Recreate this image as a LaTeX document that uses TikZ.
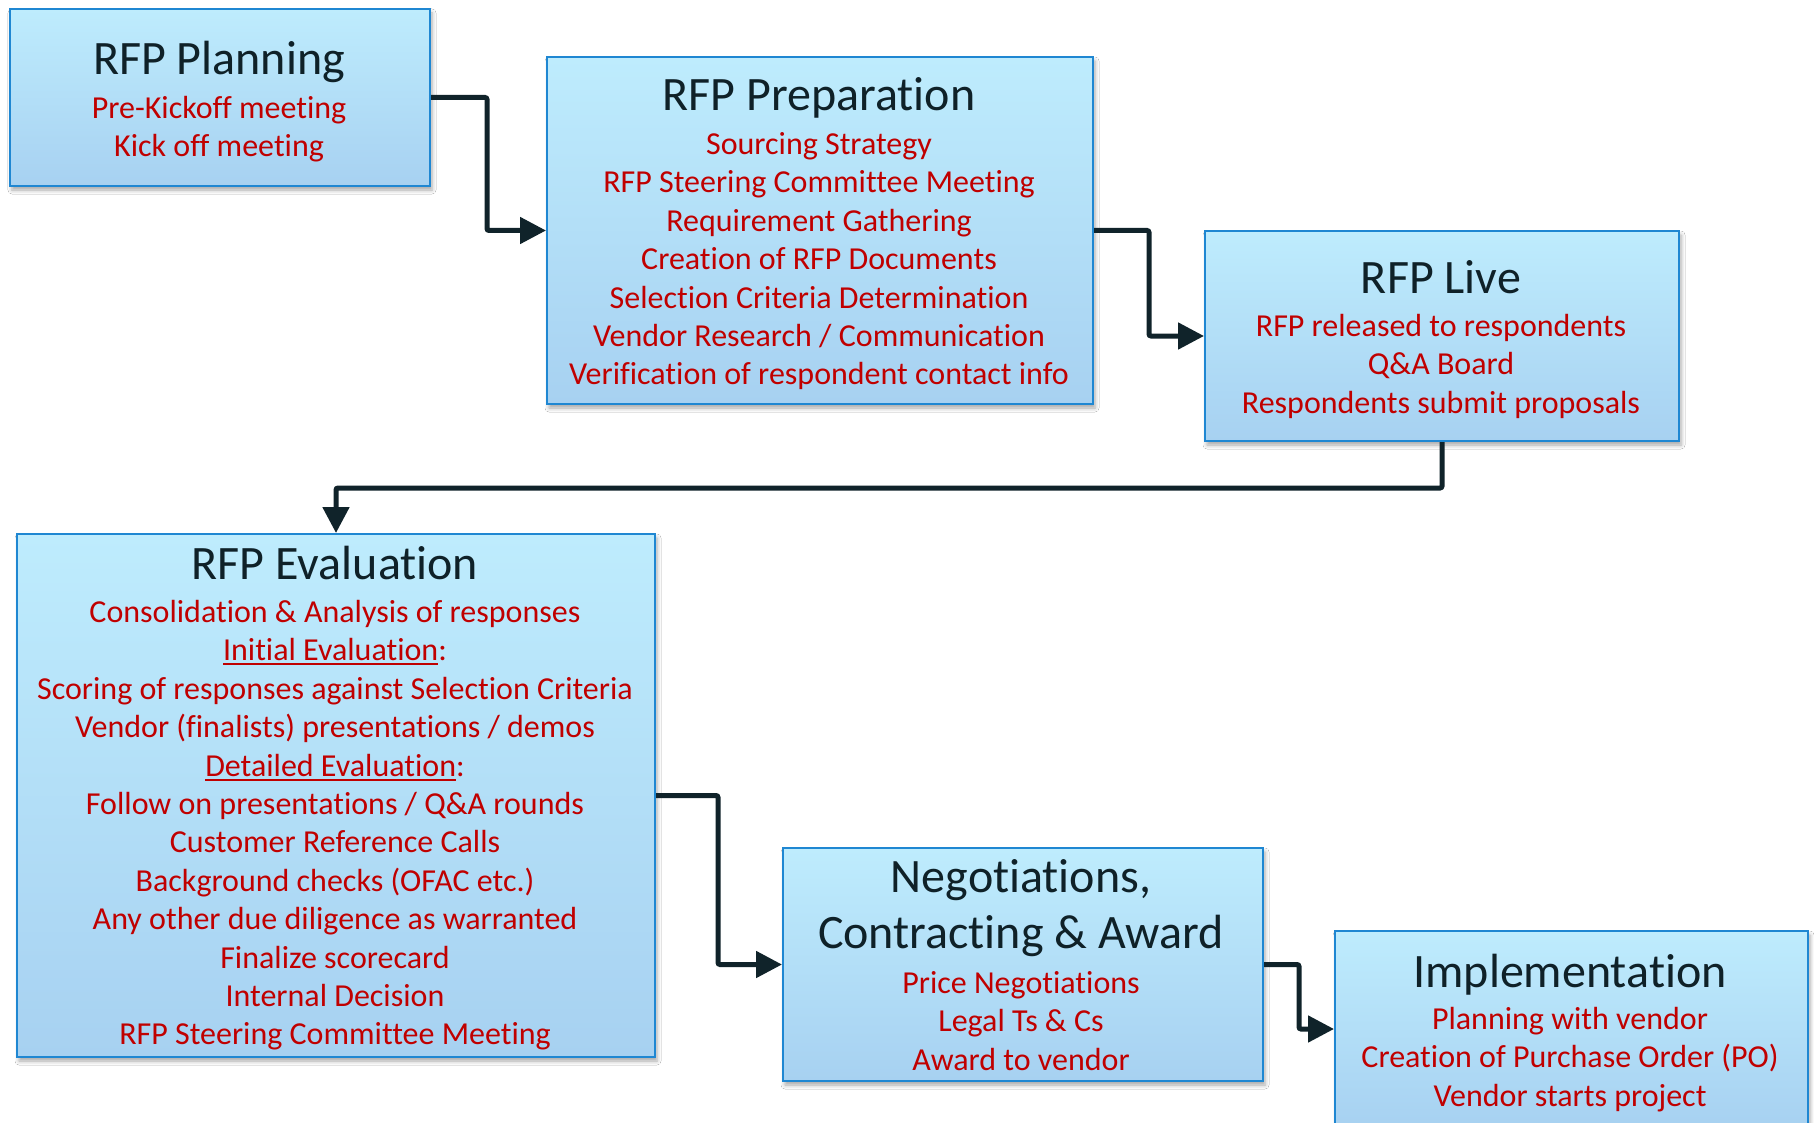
\documentclass[tikz,border=0pt]{standalone}
\usepackage{fontspec}
\setmainfont{Carlito}[Ligatures=NoCommon]
\usetikzlibrary{arrows.meta,shadows.blur}
\definecolor{boxtop}{HTML}{BEECFD}
\definecolor{boxbot}{HTML}{A7D1F1}
\definecolor{boxline}{HTML}{1F87D2}
\definecolor{redtxt}{HTML}{C00000}
\definecolor{titletxt}{HTML}{0F2128}
\definecolor{arrowc}{HTML}{10232A}
\newcommand\myul[1]{\setbox0\hbox{#1}\rlap{\rule[-4.5pt]{\wd0}{2pt}}\box0}
\tikzset{
  stagebox/.style={draw=boxline, line width=2pt, top color=boxtop, bottom color=boxbot,
    inner sep=0pt, anchor=north west,
    blur shadow={shadow xshift=2pt, shadow yshift=-4pt, shadow blur radius=4pt, shadow opacity=35}},
  ttl/.style={text=titletxt, font=\fontsize{48}{56}\selectfont, align=center, anchor=north, inner sep=0pt},
  bodytxt/.style={text=redtxt, font=\fontsize{32}{38.4}\selectfont, align=center, anchor=north, inner sep=0pt},
  flow/.style={draw=arrowc, line width=5pt, rounded corners=2pt, -{Triangle[length=26pt,width=26pt]}}
}
\begin{document}
\begin{tikzpicture}[x=1pt,y=-1pt]
\useasboundingbox (0,0) rectangle (1814,1123);
\fill[white] (0,0) rectangle (1814,1123);

% boxes
\node[stagebox, minimum width=420pt, minimum height=177pt] (b1) at (9,8) {};
\node[stagebox, minimum width=546pt, minimum height=347pt] (b2) at (546,56) {};
\node[stagebox, minimum width=474pt, minimum height=210pt] (b3) at (1204,230) {};
\node[stagebox, minimum width=638pt, minimum height=523pt] (b4) at (16,533) {};
\node[stagebox, minimum width=480pt, minimum height=233pt] (b5) at (782,847) {};
\node[stagebox, minimum width=473pt, minimum height=196pt] (b6) at (1334,930) {};

% titles
\node[ttl] (t1) at (219,35.3) {\strut RFP Planning};
\node[ttl] (t2) at (819,71.5) {\strut RFP Preparation};
\node[ttl] (t3) at (1441,253.8) {\strut RFP Live};
\node[ttl] (t4) at (335,540.3) {\strut RFP Evaluation};
\node[ttl] (t5) at (1021,852.8) {\strut Negotiations,\\\strut Contracting \& Award};
\node[ttl] (t6) at (1570,947.8) {\strut Implementation};

% body
\node[bodytxt] (l1) at (219,91.5) {\strut Pre-Kickoff meeting\\\strut Kick off meeting};
\node[bodytxt] (l2) at (819,127.5) {\strut Sourcing Strategy\\\strut RFP Steering Committee Meeting\\\strut Requirement Gathering\\\strut Creation of RFP Documents\\\strut Selection Criteria Determination\\\strut Vendor Research / Communication\\\strut Verification of respondent contact info};
\node[bodytxt] (l3) at (1441,309.5) {\strut RFP released to respondents\\\strut Q\&A Board\\\strut Respondents submit proposals};
\node[bodytxt] (l4) at (335,595.5) {\strut Consolidation \& Analysis of responses\\\strut \myul{Initial Evaluation}:\\\strut Scoring of responses against Selection Criteria\\\strut Vendor (finalists) presentations / demos\\\strut \myul{Detailed Evaluation}:\\\strut Follow on presentations / Q\&A rounds\\\strut Customer Reference Calls\\\strut Background checks (OFAC etc.)\\\strut Any other due diligence as warranted\\\strut Finalize scorecard\\\strut Internal Decision\\\strut RFP Steering Committee Meeting};
\node[bodytxt] (l5) at (1021,966.5) {\strut Price Negotiations\\\strut Legal Ts \& Cs\\\strut Award to vendor};
\node[bodytxt] (l6) at (1570,1002.5) {\strut Planning with vendor\\\strut Creation of Purchase Order (PO)\\\strut Vendor starts project};

% connectors
\draw[flow] (b1.east) -- ++(56,0) |- (b2.west);
\draw[flow] (b2.east) -- ++(55,0) |- (b3.west);
\draw[flow] (b3.south) -- ++(0,46) -| (b4.north);
\draw[flow] (b4.east) -- ++(62,0) |- (b5.west);
\draw[flow] (b5.east) -- ++(35,0) |- (b6.west);
\end{tikzpicture}
\end{document}
